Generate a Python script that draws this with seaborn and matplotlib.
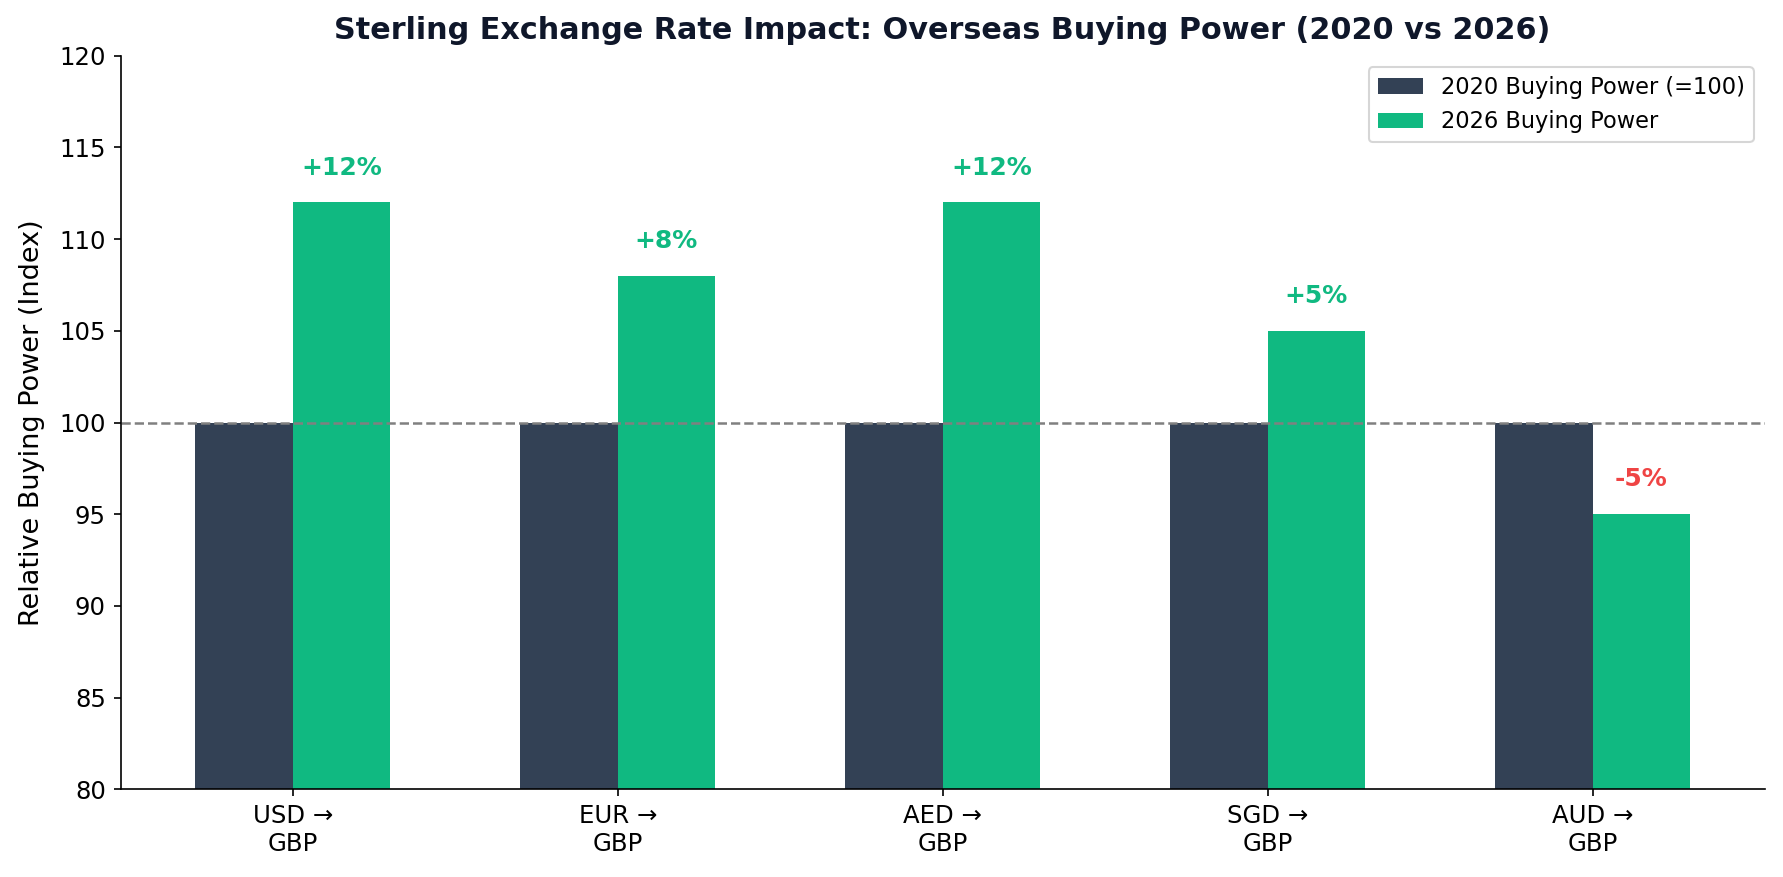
import matplotlib
matplotlib.use("Agg")
import matplotlib.pyplot as plt
import seaborn as sns
import pandas as pd

categories = ["USD →\nGBP", "EUR →\nGBP", "AED →\nGBP", "SGD →\nGBP", "AUD →\nGBP"]
power_2020 = [100, 100, 100, 100, 100]
power_2026 = [112, 108, 112, 105, 95]
change_labels = ["+12%", "+8%", "+12%", "+5%", "-5%"]
series_names = ["2020 Buying Power (=100)", "2026 Buying Power"]

df = pd.DataFrame({
    "pair": categories * 2,
    "value": power_2020 + power_2026,
    "series": [series_names[0]] * len(categories) + [series_names[1]] * len(categories),
})

plt.rcParams['font.family'] = ['DejaVu Sans']

fig, ax = plt.subplots(figsize=(1783 / 150, 877 / 150), dpi=150)
sns.barplot(data=df, x="pair", y="value", hue="series",
            palette=["#334155", "#10b981"], saturation=1, width=0.6,
            linewidth=0, edgecolor="none", ax=ax)

ax.axhline(100, color="gray", linestyle="--", linewidth=1.2)

for i, (v, lab) in enumerate(zip(power_2026, change_labels)):
    col = "#10b981" if v >= 100 else "#ef4444"
    ax.text(i + 0.15, v + 1.9, lab, ha="center", va="center",
            fontsize=12, fontweight="bold", color=col)

ax.set_xlim(-0.53, len(categories) - 1 + 0.53)
ax.set_ylim(80, 120)
ax.set_xlabel("")
ax.set_ylabel("Relative Buying Power (Index)", fontsize=13, labelpad=7)
ax.set_title("Sterling Exchange Rate Impact: Overseas Buying Power (2020 vs 2026)",
             fontsize=14.5, fontweight="bold", color="#0f172a", pad=8)
ax.tick_params(axis="both", labelsize=11.7)
sns.despine(ax=ax)
ax.legend(loc="upper right", fontsize=10.8, title=None)

fig.subplots_adjust(left=0.0676, right=0.9898, top=0.9364, bottom=0.0999)
fig.savefig("out.png", dpi=150)
